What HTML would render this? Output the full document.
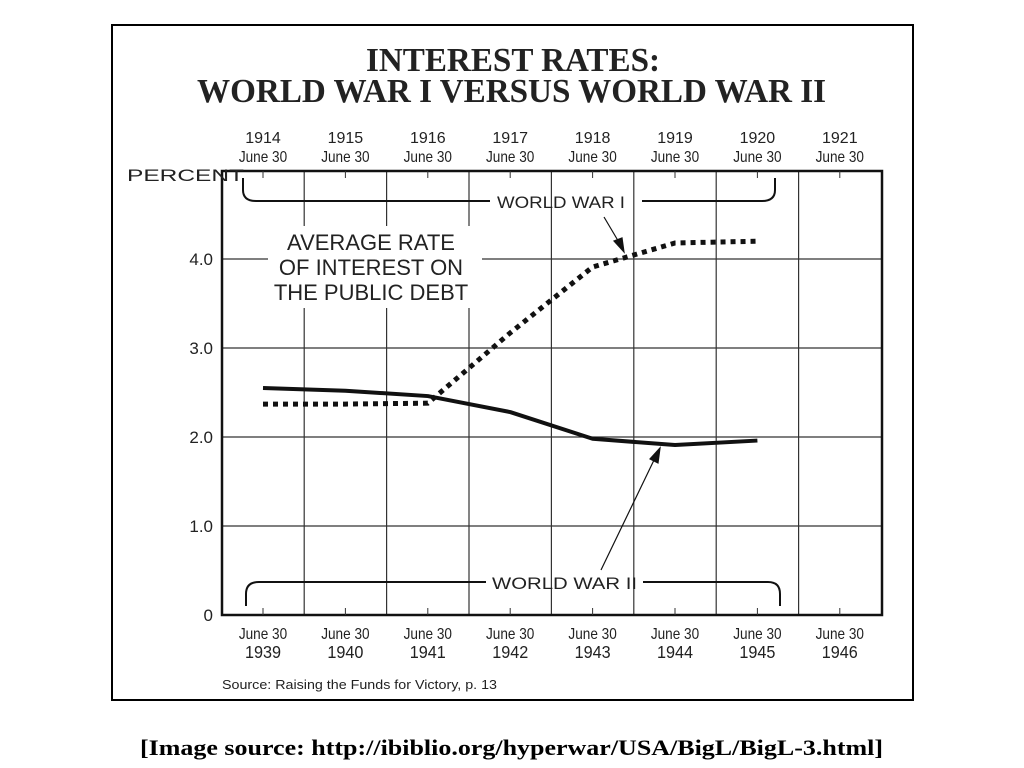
<!DOCTYPE html>
<html><head><meta charset="utf-8"><style>
body{margin:0;background:#fff;width:1024px;height:768px;overflow:hidden}
svg{display:block}
</style></head><body>
<svg id="chart" width="1024" height="768" viewBox="0 0 1024 768" xmlns="http://www.w3.org/2000/svg">
<rect x="112" y="25" width="801" height="675" fill="#fff" stroke="#000" stroke-width="2"/>
<g font-family="Liberation Serif, serif" font-weight="bold" fill="#222">
<text x="366" y="71" font-size="34" textLength="294" lengthAdjust="spacingAndGlyphs">INTEREST RATES:</text>
<text x="197" y="102" font-size="34" textLength="629" lengthAdjust="spacingAndGlyphs">WORLD WAR I VERSUS WORLD WAR II</text>
</g>
<g id="grid"></g>
<g id="axes"></g>
<rect x="268" y="226" width="214" height="82" fill="#fff"/>
<g font-family="Liberation Sans, sans-serif" font-size="22" text-anchor="middle" fill="#222">
<text x="371" y="250">AVERAGE RATE</text>
<text x="371" y="275">OF INTEREST ON</text>
<text x="371" y="300">THE PUBLIC DEBT</text>
</g>
<g id="series"></g>
<g fill="none" stroke="#111" stroke-width="2">
<path d="M243 178 V190 Q243 201 256 201 H490"/>
<path d="M642 201 H762 Q775 201 775 190 V178"/>
</g>
<text x="497" y="208" font-family="Liberation Sans, sans-serif" font-size="17" textLength="128" lengthAdjust="spacingAndGlyphs" fill="#222">WORLD WAR I</text>
<g stroke="#111" stroke-width="1.2" fill="#111">
<line x1="604" y1="217" x2="620" y2="244"/><path d="M624 252 L614 241 L622 238 Z"/>
</g>
<g fill="none" stroke="#111" stroke-width="2">
<path d="M246 606 V594 Q246 582 259 582 H486"/>
<path d="M643 582 H768 Q780 582 780 594 V606"/>
</g>
<text x="492" y="589" font-family="Liberation Sans, sans-serif" font-size="17" textLength="145" lengthAdjust="spacingAndGlyphs" fill="#222">WORLD WAR  II</text>
<g stroke="#111" stroke-width="1.2" fill="#111">
<line x1="601" y1="570" x2="655" y2="458"/><path d="M660 448 L658 463 L650 459 Z"/>
</g>
<text x="127" y="181" font-family="Liberation Sans, sans-serif" font-size="17" textLength="117" lengthAdjust="spacingAndGlyphs" fill="#222">PERCENT</text>
<text x="222" y="689" font-family="Liberation Sans, sans-serif" font-size="13" textLength="275" lengthAdjust="spacingAndGlyphs" fill="#222">Source: Raising the Funds for Victory, p. 13</text>
<text x="140" y="755" font-family="Liberation Serif, serif" font-weight="bold" font-size="22" textLength="743" lengthAdjust="spacingAndGlyphs" fill="#000">[Image source:  http://ibiblio.org/hyperwar/USA/BigL/BigL-3.html]</text>
</svg>
<script>
const topYears = ["1914","1915","1916","1917","1918","1919","1920","1921"];
const bottomYears = ["1939","1940","1941","1942","1943","1944","1945","1946"];
const yTicks = [0,1,2,3,4];
const yTickLabels = ["0","1.0","2.0","3.0","4.0"];
const ww1Values = [2.37,2.37,2.38,3.17,3.91,4.18,4.2];
const ww2Values = [2.55,2.52,2.46,2.28,1.98,1.91,1.96];

const NS="http://www.w3.org/2000/svg";
const X0=263, DX=82.4, Y0=615, DY=89, L=222, R=882, T=171;
const xs=i=>X0+i*DX, ys=v=>Y0-v*DY;
function mk(tag,attrs,parent){const e=document.createElementNS(NS,tag);for(const k in attrs)e.setAttribute(k,attrs[k]);parent.appendChild(e);return e;}
const grid=document.getElementById('grid'), axes=document.getElementById('axes'), series=document.getElementById('series');
for(let i=0;i<topYears.length-1;i++){
  const x=xs(i)+DX/2;
  const l=mk('line',{x1:x,x2:x,y1:T,y2:Y0,stroke:'#333','stroke-width':1.2},grid);
  
  
}
yTicks.forEach((v,i)=>{
  if(v>0){const l=mk('line',{x1:L,x2:R,y1:ys(v),y2:ys(v),stroke:'#333','stroke-width':1.2},grid);
  
  }
  const t=mk('text',{x:213,y:ys(v)+6,'font-family':'Liberation Sans, sans-serif','font-size':17,'text-anchor':'end',fill:'#222'},axes);
  t.textContent=yTickLabels[i];
  
  
});
const fr=mk('rect',{x:L,y:T,width:R-L,height:Y0-T,fill:'none',stroke:'#111','stroke-width':2.5},axes);


topYears.forEach((y,i)=>{
  const x=xs(i);
  mk('line',{x1:x,x2:x,y1:T,y2:T+7,stroke:'#333','stroke-width':1},axes);
  mk('line',{x1:x,x2:x,y1:Y0,y2:Y0-7,stroke:'#333','stroke-width':1},axes);
  const f={'font-family':'Liberation Sans, sans-serif','text-anchor':'middle',fill:'#222'};
  const a=mk('text',Object.assign({x:x,y:143,'font-size':16},f),axes);a.textContent=y;
  
  
  const b=mk('text',Object.assign({x:x,y:162,'font-size':16,transform:`translate(${x} 0) scale(0.85 1) translate(${-x} 0)`},f),axes);b.textContent='June 30';
  
  
  const c=mk('text',Object.assign({x:x,y:639,'font-size':16,transform:`translate(${x} 0) scale(0.85 1) translate(${-x} 0)`},f),axes);c.textContent='June 30';
  
  
  const d=mk('text',Object.assign({x:x,y:658,'font-size':18,transform:`translate(${x} 0) scale(0.9 1) translate(${-x} 0)`},f),axes);d.textContent=bottomYears[i];
  
  
});
const p1=mk('polyline',{points:ww1Values.map((v,i)=>xs(i)+','+ys(v)).join(' '),fill:'none',stroke:'#111','stroke-width':5,'stroke-dasharray':'5 5'},series);


const p2=mk('polyline',{points:ww2Values.map((v,i)=>xs(i)+','+ys(v)).join(' '),fill:'none',stroke:'#111','stroke-width':4,'stroke-linejoin':'round'},series);


</script>
</body></html>
